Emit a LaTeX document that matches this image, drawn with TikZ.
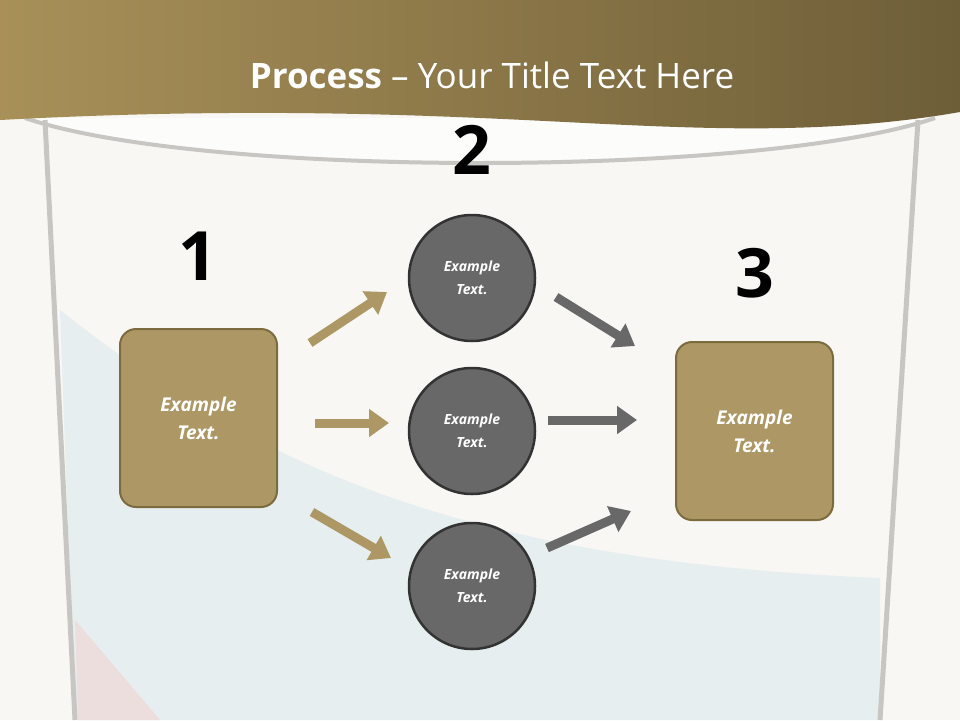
\documentclass[tikz,border=0pt]{standalone}
\usepackage{fontspec}
\setmainfont{Open Sans}
\usetikzlibrary{arrows.meta}
\definecolor{bg}{HTML}{F8F7F3}
\definecolor{tan}{HTML}{AD9764}
\definecolor{tanb}{HTML}{7D6B40}
\definecolor{circfill}{HTML}{686868}
\definecolor{glass}{HTML}{C8C6C2}
\definecolor{water}{HTML}{E6EEF0}
\definecolor{pinkw}{HTML}{EBDEDC}
\definecolor{hl}{HTML}{A89058}
\definecolor{hr}{HTML}{6E5E38}
\tikzset{
 box/.style={draw=tanb,line width=2pt,fill=tan,rounded corners=16pt,minimum width=157pt,minimum height=178pt,text=white,font=\bfseries\itshape\fontsize{19}{28}\selectfont,align=center},
 circnode/.style={circle,draw=black!80,line width=2.5pt,fill=circfill,minimum size=126pt,text=white,font=\bfseries\itshape\fontsize{14}{23}\selectfont,align=center},
 num/.style={font=\bfseries\fontsize{68}{68}\selectfont},
 arr/.style={line width=9pt,-{Triangle[length=20pt,width=27pt]}},
}
\begin{document}
\begin{tikzpicture}[x=1pt,y=-1pt]
\useasboundingbox (0,0) rectangle (960,720);
\fill[bg] (0,0) rectangle (960,720);
% water
\fill[water] (60,310) .. controls (250,460) and (450,560) .. (880,578) -- (880,720) -- (75,720) -- cycle;
\fill[pinkw] (75,620) -- (160,720) -- (78,720) -- cycle;
% glass inner rim
\fill[white!60!bg] (25,118) .. controls (200,175) and (760,175) .. (935,118) -- cycle;
\draw[glass,line width=4pt] (25,118) .. controls (200,178) and (760,178) .. (935,118);
\draw[glass,line width=5pt] (45,120) -- (75,720);
\draw[glass,line width=5pt] (918,120) -- (880,720);
% header
\shade[left color=hl,right color=hr] (0,0) -- (960,0) -- (960,112) .. controls (800,140) and (650,125) .. (480,118) .. controls (300,110) and (150,112) .. (0,120) -- cycle;
\node[text=white,font=\fontsize{35}{35}\selectfont] (title) at (492,75) {\textbf{Process} – Your Title Text Here};
% numbers
\node[num] (n1) at (198,256) {1};
\node[num] (n2) at (472,150) {2};
\node[num] (n3) at (755,273) {3};
% boxes
\node[box] (b1) at (198.5,418) {Example\\Text.};
\node[box] (b3) at (754.5,431) {Example\\Text.};
\node[circnode] (c1) at (472,278) {Example\\Text.};
\node[circnode] (c2) at (472,431) {Example\\Text.};
\node[circnode] (c3) at (472,586) {Example\\Text.};
% arrows
\coordinate (a1s) at (310,343); \coordinate (a1e) at (387,292);
\coordinate (a2s) at (315,423); \coordinate (a2e) at (389,423);
\coordinate (a3s) at (312,512); \coordinate (a3e) at (391,558);
\coordinate (g1s) at (556,297); \coordinate (g1e) at (635,346);
\coordinate (g2s) at (548,420); \coordinate (g2e) at (637,420);
\coordinate (g3s) at (547,548); \coordinate (g3e) at (631,511);
\draw[arr,tan] (a1s) -- (a1e);
\draw[arr,tan] (a2s) -- (a2e);
\draw[arr,tan] (a3s) -- (a3e);
\draw[arr,circfill] (g1s) -- (g1e);
\draw[arr,circfill] (g2s) -- (g2e);
\draw[arr,circfill] (g3s) -- (g3e);
\end{tikzpicture}
\end{document}
